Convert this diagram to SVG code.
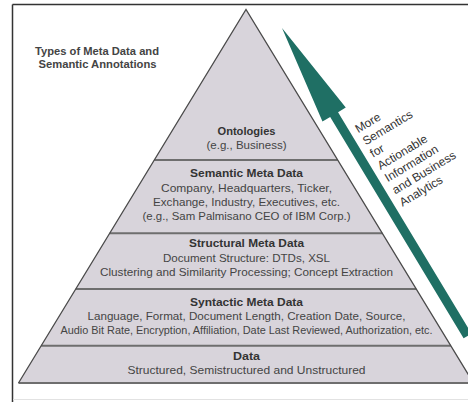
<svg xmlns="http://www.w3.org/2000/svg" width="468" height="402" viewBox="0 0 468 402">
<style>
.band{fill:#d8d4db;stroke:none}
.sep{stroke:#6e6e6e;stroke-width:2;fill:none}
.edge{stroke:#4a4a4a;stroke-width:1.3;fill:none}
.t{font-family:"Liberation Sans",Arial,sans-serif;font-size:11px;fill:#444;text-anchor:middle}
.b{font-weight:bold;fill:#333}
.title{font-family:"Liberation Sans",Arial,sans-serif;font-size:11px;font-weight:bold;fill:#444;text-anchor:middle}
.at{font-family:"Liberation Sans",Arial,sans-serif;font-size:12px;fill:#333}
</style>
<rect x="0" y="0" width="468" height="402" fill="#ffffff"/>
<g id="frame">
<line x1="12.5" y1="4.5" x2="468" y2="4.5" stroke="#333" stroke-width="1.5"/>
<line x1="12.5" y1="4.5" x2="12.5" y2="402" stroke="#333" stroke-width="1.5"/>
<line x1="13" y1="399.5" x2="468" y2="399.5" stroke="#e2e2e2" stroke-width="1"/>
</g>
<g id="title">
<text class="title" x="97" y="54.5" textLength="124" lengthAdjust="spacingAndGlyphs">Types of Meta Data and</text>
<text class="title" x="97.5" y="67.5" textLength="118" lengthAdjust="spacingAndGlyphs">Semantic Annotations</text>
</g>
<g id="ontologies">
<polygon class="band" points="246,9.5 337.7,160 154.3,160"/>
<text class="t b" x="246.5" y="135" textLength="58" lengthAdjust="spacingAndGlyphs">Ontologies</text>
<text class="t" x="246.5" y="149" textLength="80" lengthAdjust="spacingAndGlyphs">(e.g., Business)</text>
</g>
<g id="semantic-meta-data">
<polygon class="band" points="154.3,160 337.7,160 382.3,233.3 109.7,233.3"/>
<text class="t b" x="246.5" y="177" textLength="113" lengthAdjust="spacingAndGlyphs">Semantic Meta Data</text>
<text class="t" x="246.5" y="191.5" textLength="171" lengthAdjust="spacingAndGlyphs">Company, Headquarters, Ticker,</text>
<text class="t" x="246.5" y="206" textLength="187" lengthAdjust="spacingAndGlyphs">Exchange, Industry, Executives, etc.</text>
<text class="t" x="246.5" y="220" textLength="208" lengthAdjust="spacingAndGlyphs">(e.g., Sam Palmisano CEO of IBM Corp.)</text>
</g>
<g id="structural-meta-data">
<polygon class="band" points="109.7,233.3 382.3,233.3 416.2,289 75.8,289"/>
<text class="t b" x="246.5" y="247" textLength="115" lengthAdjust="spacingAndGlyphs">Structural Meta Data</text>
<text class="t" x="246.5" y="261.5" textLength="167" lengthAdjust="spacingAndGlyphs">Document Structure: DTDs, XSL</text>
<text class="t" x="246.5" y="275.5" textLength="293" lengthAdjust="spacingAndGlyphs">Clustering and Similarity Processing; Concept Extraction</text>
</g>
<g id="syntactic-meta-data">
<polygon class="band" points="75.8,289 416.2,289 450.8,345.7 41.2,345.7"/>
<text class="t b" x="246.5" y="306" textLength="113" lengthAdjust="spacingAndGlyphs">Syntactic Meta Data</text>
<text class="t" x="246.5" y="320" textLength="318" lengthAdjust="spacingAndGlyphs">Language, Format, Document Length, Creation Date, Source,</text>
<text class="t" x="246.5" y="334" textLength="372" lengthAdjust="spacingAndGlyphs">Audio Bit Rate, Encryption, Affiliation, Date Last Reviewed, Authorization, etc.</text>
</g>
<g id="data">
<polygon class="band" points="41.2,345.7 450.8,345.7 473.5,383 18.5,383"/>
<text class="t b" x="246.5" y="359.5" textLength="27" lengthAdjust="spacingAndGlyphs">Data</text>
<text class="t" x="246.5" y="373.5" textLength="238" lengthAdjust="spacingAndGlyphs">Structured, Semistructured and Unstructured</text>
</g>
<g id="pyramid-lines">
<line class="sep" x1="154.3" y1="160" x2="337.7" y2="160"/>
<line class="sep" x1="109.7" y1="233.3" x2="382.3" y2="233.3"/>
<line class="sep" x1="75.8" y1="289" x2="416.2" y2="289"/>
<line class="sep" x1="41.2" y1="345.7" x2="450.8" y2="345.7"/>
<line class="sep" x1="18.5" y1="383" x2="473.5" y2="383"/>
<polyline class="edge" points="18.5,383 246,9.5 473.5,383"/>
</g>
<g id="semantics-arrow" transform="translate(282,28) rotate(-31.07)">
<polygon fill="#1f6f64" points="0,0 13.6,101 4.6,101 4.6,359.5 -4.6,359.5 -4.6,101 -13.6,101"/>
<text class="at" x="11" y="129.6">More</text>
<text class="at" x="11" y="143.9">Semantics</text>
<text class="at" x="11" y="158.2">for</text>
<text class="at" x="11" y="172.5">Actionable</text>
<text class="at" x="11" y="186.8">Information</text>
<text class="at" x="11" y="201.1">and Business</text>
<text class="at" x="11" y="215.4">Analytics</text>
</g>
</svg>
